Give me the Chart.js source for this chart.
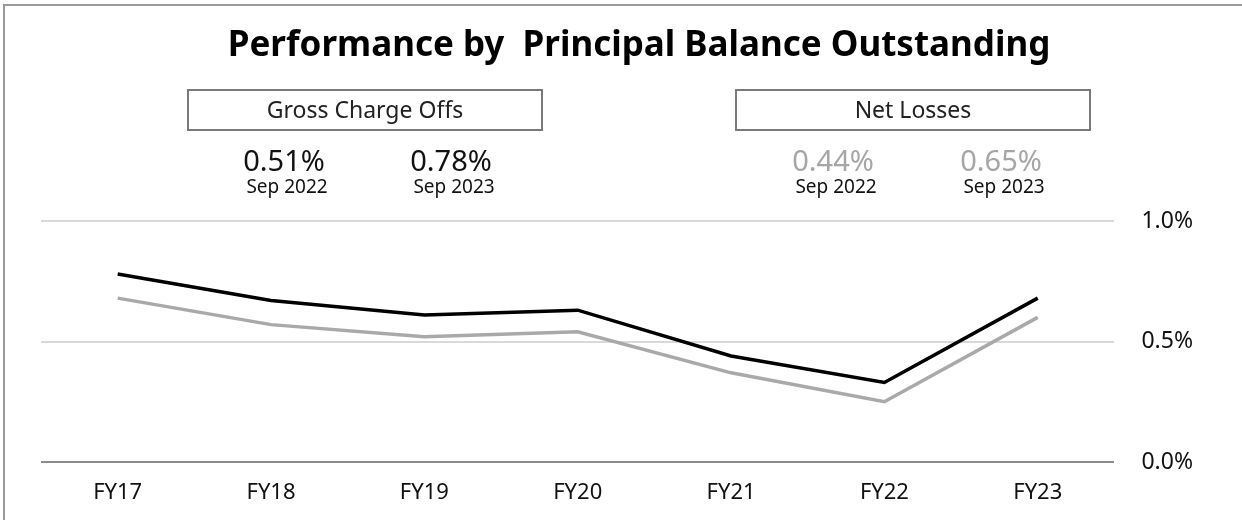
<!DOCTYPE html>
<html>
<head>
<meta charset="utf-8">
<script src="https://cdn.jsdelivr.net/npm/chart.js@4"></script>
<style>
  html, body { margin: 0; padding: 0; background: #fff; }
  #wrap { width: 1242px; height: 520px; position: relative; }
</style>
</head>
<body>
<div id="wrap"><canvas id="perfChart" width="1242" height="520"></canvas></div>
<script>
const categories = ["FY17", "FY18", "FY19", "FY20", "FY21", "FY22", "FY23"];
const grossChargeOffs = [0.78, 0.67, 0.61, 0.63, 0.44, 0.33, 0.68];
const netLosses = [0.68, 0.57, 0.52, 0.54, 0.37, 0.25, 0.6];
const yTicks = [0, 0.5, 1.0];

const summaryPeriods = ["Sep 2022", "Sep 2023"];
const grossSummary = [0.51, 0.78];
const netSummary = [0.44, 0.65];

const titleText = "Performance by  Principal Balance Outstanding";
const FONT = "'Noto Sans', 'Open Sans', sans-serif";

// frame, title and the two summary panels above the plot
const headerPlugin = {
  id: "header",
  beforeDraw(chart) {
    const ctx = chart.ctx;
    ctx.save();
    ctx.fillStyle = "#fff";
    ctx.fillRect(0, 0, chart.width, chart.height);

    ctx.strokeStyle = "#9a9a9a";
    ctx.lineWidth = 2;
    ctx.beginPath();
    ctx.moveTo(4, chart.height);
    ctx.lineTo(4, 5);
    ctx.lineTo(chart.width, 5);
    ctx.stroke();

    ctx.fillStyle = "#000";
    ctx.textAlign = "center";
    ctx.textBaseline = "alphabetic";
    ctx.font = "bold 35px " + FONT;
    ctx.fillText(titleText, 639, 56);

    const panels = [
      { label: "Gross Charge Offs", box: [188, 90, 354, 40], xs: [284, 451], vals: grossSummary, color: "#111" },
      { label: "Net Losses", box: [736, 90, 354, 40], xs: [833, 1001], vals: netSummary, color: "#a6a6a6" },
    ];
    panels.forEach((p) => {
      ctx.strokeStyle = "#7a7a7a";
      ctx.lineWidth = 2;
      ctx.strokeRect(p.box[0], p.box[1], p.box[2], p.box[3]);
      ctx.fillStyle = "#222";
      ctx.font = "23px " + FONT;
      ctx.textBaseline = "middle";
      ctx.fillText(p.label, p.box[0] + p.box[2] / 2, p.box[1] + p.box[3] / 2 + 1);
      p.vals.forEach((v, i) => {
        ctx.fillStyle = p.color;
        ctx.font = "29px " + FONT;
        ctx.textBaseline = "alphabetic";
        ctx.fillText(v.toFixed(2) + "%", p.xs[i], 171);
        ctx.fillStyle = "#111";
        ctx.font = "19px " + FONT;
        ctx.fillText(summaryPeriods[i], p.xs[i] + 3, 193);
      });
    });
    ctx.restore();
  },
};

const ctx = document.getElementById("perfChart").getContext("2d");
new Chart(ctx, {
  type: "line",
  data: {
    labels: categories,
    datasets: [
      {
        label: "Gross Charge Offs",
        data: grossChargeOffs,
        borderColor: "#000",
        borderWidth: 3.5,
        pointRadius: 0,
        tension: 0,
      },
      {
        label: "Net Losses",
        data: netLosses,
        borderColor: "#a9a9a9",
        borderWidth: 3.5,
        pointRadius: 0,
        tension: 0,
      },
    ],
  },
  options: {
    responsive: false,
    animation: false,
    layout: { padding: { top: 221, left: 41, right: 22, bottom: 0 } },
    plugins: {
      legend: { display: false },
      tooltip: { enabled: false },
    },
    scales: {
      x: {
        offset: true,
        grid: { display: false, drawTicks: false },
        border: { display: false },
        ticks: { color: "#111", font: { family: FONT, size: 22 }, padding: 18 },
        afterFit(axis) {
          axis.height = 58;
        },
      },
      y: {
        position: "right",
        min: 0,
        max: 1.0,
        afterBuildTicks(axis) {
          axis.ticks = yTicks.map((v) => ({ value: v }));
        },
        grid: {
          drawTicks: false,
          lineWidth: 2,
          color: (c) => (c.tick && c.tick.value === 0 ? "#8c8c8c" : "#d9d9d9"),
        },
        border: { display: false },
        ticks: {
          color: "#111",
          font: { family: FONT, size: 23 },
          padding: 27,
          callback: (v) => Number(v).toFixed(1) + "%",
        },
      },
    },
  },
  plugins: [headerPlugin],
});
</script>
</body>
</html>
